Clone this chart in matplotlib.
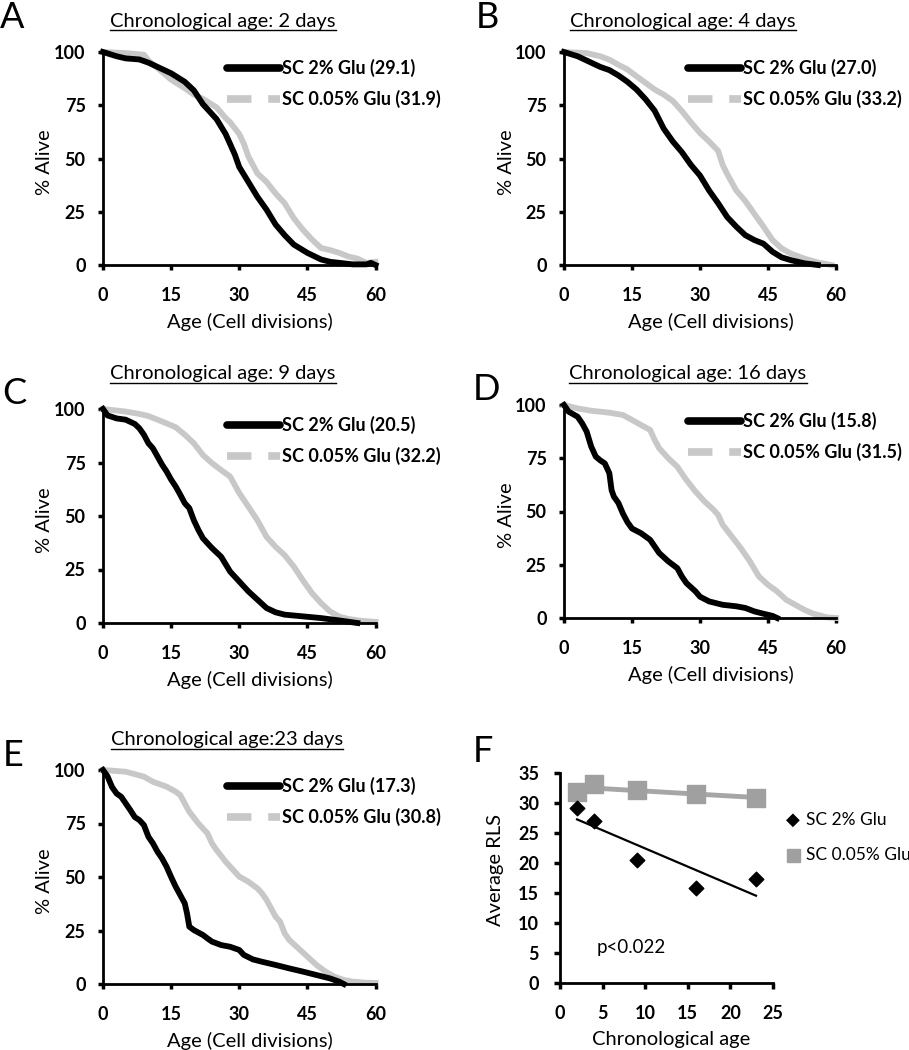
import numpy as np
import matplotlib
matplotlib.use('Agg')
import matplotlib.pyplot as plt
from matplotlib.lines import Line2D

plt.rcParams['font.family'] = ['Lato', 'DejaVu Sans']

W, H = 909, 1050

# survival curves: age (cell divisions) and % alive
a_x_2 = [0, 3, 5, 8, 10, 12, 15, 18, 20, 22, 25, 27, 29, 30, 32, 34, 36, 38, 40, 42, 45, 48, 50, 55, 58, 59, 60]
a_y_2 = [100, 98, 97, 96.5, 95, 93, 90, 86, 82, 75.5, 68.5, 61.5, 52, 46, 39, 32, 26, 19, 14, 9.6, 5.7, 2.6, 1.5, 0.3, 0.3, 1, 0]
a_x_005 = [0, 5, 9, 10, 12, 15, 18, 20, 22, 25, 27, 28, 30, 31, 32, 34, 36, 38, 40, 42, 44, 46, 48, 50, 52, 54, 56, 58, 60]
a_y_005 = [100, 99.5, 98.7, 96, 92.5, 87, 83, 80, 78, 74, 69, 67, 61.5, 57, 51, 43, 39, 33.6, 29, 22, 16.6, 12, 8, 7, 5.7, 4, 3, 1, 1.5]

b_x_2 = [0, 3, 5, 8, 10, 12, 14, 16, 18, 20, 22, 24, 26, 28, 30, 32, 34, 36, 38, 40, 42, 44, 46, 48, 50, 53, 56]
b_y_2 = [100, 98, 96, 93, 91.5, 89, 86, 82.4, 77.8, 72.4, 64, 58, 53, 47, 42, 35, 29, 22.5, 18, 14, 11.7, 10, 6.2, 3.6, 2.3, 0.8, 0]
b_x_005 = [0, 5, 8, 10, 12, 14, 16, 18, 20, 22, 24, 26, 28, 30, 32, 34, 35, 36, 38, 40, 42, 44, 46, 48, 50, 53, 56, 59]
b_y_005 = [100, 99.5, 98, 96.4, 94, 91.8, 88.6, 85.5, 82.4, 80, 77, 72.3, 67, 62, 58, 53.6, 47, 42.7, 35, 30, 24, 18, 11.7, 7.8, 5.4, 3, 1.2, 0]

c_x_2 = [0, 1, 3, 5, 7, 8, 9, 10, 11, 12, 13, 14, 15, 16, 17, 18, 19, 20, 21, 22, 24, 26, 28, 30, 32, 34, 36, 38, 40, 44, 48, 52, 55, 56]
c_y_2 = [100, 97, 95.6, 95, 93, 91, 88, 84, 81.6, 77.8, 74, 70.8, 67, 63.8, 60, 56, 53.7, 48, 43.5, 39.6, 35, 31, 24, 19.4, 14.8, 10.9, 7, 5, 3.9, 3.1, 2.3, 1.2, 0.3, 0]
c_x_005 = [0, 5, 8, 10, 12, 14, 16, 18, 20, 22, 24, 26, 28, 30, 32, 34, 36, 38, 40, 42, 44, 46, 48, 50, 52, 54, 57, 60]
c_y_005 = [100, 98.8, 97.7, 96.7, 95, 93.3, 91.5, 88, 84, 78.5, 74.7, 71.5, 68.4, 60.7, 54.4, 48, 40.3, 35.6, 31.7, 26.4, 20, 14, 9.3, 5.4, 3, 1.9, 1, 0.5]

d_x_2 = [0, 1, 3, 4, 5, 6, 7, 8, 9, 10, 10.5, 11, 12, 13, 14, 15, 17, 19, 20, 21, 23, 25, 26, 27, 29, 30, 32, 35, 38, 40, 42, 44, 46, 47]
d_y_2 = [100, 96.9, 94.5, 91.4, 87.5, 80.5, 75.8, 74, 72.6, 68, 60, 57, 54, 49, 45, 42, 39.8, 36.7, 33.6, 30.5, 26.6, 23.4, 19.5, 16.4, 12.5, 10, 7.8, 6.2, 5.5, 4.7, 3.1, 2, 1, 0]
d_x_005 = [0, 3, 6, 10, 13, 15, 17, 19, 20, 21, 23, 25, 27, 29, 31, 33, 34, 35, 37, 39, 41, 43, 45, 47, 49, 51, 53, 55, 58, 60]
d_y_005 = [100, 98.4, 97.3, 96.4, 95.3, 93, 90.6, 88.3, 83.6, 79.7, 75, 71, 64.8, 59.4, 54.7, 50.8, 48.4, 43.8, 38.3, 32.8, 26.6, 19.5, 15.6, 12.5, 8.6, 6.2, 3.9, 2, 0.3, 0]

e_x_2 = [0, 1, 2, 3, 4, 5, 6, 7, 8, 9, 10, 11, 12, 13, 14, 15, 16, 17, 18, 18.5, 19, 20, 22, 23, 24, 26, 28, 30, 31, 33, 35, 38, 41, 44, 47, 50, 52, 53]
e_y_2 = [100, 97, 92, 89, 87.5, 84.4, 81.3, 78, 76.6, 74.3, 68.8, 65.7, 61.8, 58.7, 54.8, 50, 45.5, 41.6, 37.7, 33, 26.8, 25.2, 22.9, 21.3, 19.8, 18.2, 17.4, 15.9, 13.6, 11.5, 10.4, 8.9, 7.3, 5.8, 4.2, 2.6, 1.1, 0]
e_x_005 = [0, 5, 9, 11, 14, 16, 17, 18, 19, 21, 23, 24, 25, 27, 29, 30, 32, 34, 35, 36, 37, 38, 39, 40, 41, 43, 45, 47, 49, 51, 53, 55, 58, 60]
e_y_005 = [100, 99.2, 96.9, 94.5, 92.2, 89.9, 88.3, 84.4, 80.5, 75, 70.4, 65.7, 62.6, 57.2, 52.5, 50.2, 47.8, 44.7, 42.4, 39.3, 35.4, 31.5, 29.1, 23.7, 20.6, 16.7, 12.8, 8.9, 5.8, 3.4, 1.9, 1.1, 0.6, 0.5]

# panel F: mean RLS versus chronological age
chrono_days = [2, 4, 9, 16, 23]
rls_2 = [29.1, 27.0, 20.5, 15.8, 17.3]
rls_005 = [31.9, 33.2, 32.2, 31.5, 30.8]

titles = ['Chronological age: 2 days', 'Chronological age: 4 days', 'Chronological age: 9 days',
          'Chronological age: 16 days', 'Chronological age:23 days']
letters = ['A', 'B', 'C', 'D', 'E', 'F']

GREY = '#c8c8c8'
fig = plt.figure(figsize=(W / 100, H / 100), dpi=100)


def px_axes(x0, x1, ytop, ybot):
    return fig.add_axes([x0 / W, 1 - ybot / H, (x1 - x0) / W, (ybot - ytop) / H])


def fy(y):
    return 1 - y / H


def style_axes(ax, xpad, ypad):
    for s in ['top', 'right']:
        ax.spines[s].set_visible(False)
    for s in ['left', 'bottom']:
        ax.spines[s].set_linewidth(2.0)
    ax.tick_params(direction='out', length=3.5, width=2.5, labelsize=13)
    ax.tick_params(axis='x', pad=xpad)
    ax.tick_params(axis='y', pad=ypad)
    for lab in ax.get_xticklabels() + ax.get_yticklabels():
        lab.set_fontweight('bold')


# layout of the five survival panels: (x0, x1, ytop, ybot), title pos, letter pos
panels = [
    ((103, 375.5, 52, 265), (223, 21), (12, 18)),
    ((564, 836, 52, 265), (683, 21), (487, 18)),
    ((103, 375.5, 409, 623), (223, 374), (14, 393)),
    ((564, 836, 405, 618), (688, 374), (487, 390)),
    ((103, 375.5, 770, 984), (227, 740), (13, 755)),
]
curves = [
    (a_x_2, a_y_2, a_x_005, a_y_005, '29.1', '31.9'),
    (b_x_2, b_y_2, b_x_005, b_y_005, '27.0', '33.2'),
    (c_x_2, c_y_2, c_x_005, c_y_005, '20.5', '32.2'),
    (d_x_2, d_y_2, d_x_005, d_y_005, '15.8', '31.5'),
    (e_x_2, e_y_2, e_x_005, e_y_005, '17.3', '30.8'),
]

title_texts = []
for i, (rect, tpos, lpos) in enumerate(panels):
    x2, y2, x005, y005, m2, m005 = curves[i]
    x0, x1, ytop, ybot = rect
    ax = px_axes(*rect)
    ax.plot(x005, y005, color=GREY, lw=4.2, clip_on=False)
    ax.plot(x2, y2, color='black', lw=4.2, clip_on=False)
    ax.set_xlim(0, 60)
    ax.set_ylim(0, 100)
    ax.set_xticks([0, 15, 30, 45, 60])
    ax.set_yticks([0, 25, 50, 75, 100])
    style_axes(ax, xpad=12, ypad=9)

    # y label as a plain rotated text
    fig.text((x0 - 58) / W, fy((ytop + ybot) / 2 + 4), '% Alive', fontsize=14.5, rotation=90,
             ha='center', va='center')

    # legend
    r1, r2 = ytop + 16, ytop + 47
    hx0, hx1 = (x0 + 124) / W, (x0 + 177) / W
    fig.add_artist(Line2D([hx0, hx1], [fy(r1), fy(r1)], color='black', lw=5.5, solid_capstyle='round'))
    fig.add_artist(Line2D([hx0, hx1], [fy(r2), fy(r2)], color=GREY, lw=5.5, dashes=(3.2, 2.2)))
    fig.text((x0 + 179) / W, fy(r1), f'SC 2% Glu ({m2})', fontsize=13, fontweight='bold', va='center')
    fig.text((x0 + 179) / W, fy(r2), f'SC 0.05% Glu ({m005})', fontsize=13, fontweight='bold', va='center')

    fig.text((x0 + 147) / W, fy(ybot + 57), 'Age (Cell divisions)', fontsize=14.5, ha='center', va='center')
    fig.text(lpos[0] / W, fy(lpos[1]), letters[i], fontsize=26, ha='center', va='center')
    title_texts.append(fig.text(tpos[0] / W, fy(tpos[1]), titles[i], fontsize=14.5,
                                ha='center', va='center'))

# panel F
axf = px_axes(560, 773, 773, 983)
cd = np.array(chrono_days)
fit2 = np.polyfit(cd, rls_2, 1)
fit005 = np.polyfit(cd, rls_005, 1)
xs = np.array([cd.min(), cd.max()])
axf.plot(xs, np.polyval(fit005, xs), color='#a6a6a6', lw=3.5)
axf.plot(xs, np.polyval(fit2, xs), color='black', lw=1.6)
axf.scatter(cd, rls_005, marker='s', s=160, color='#a0a0a0', zorder=3, clip_on=False)
axf.scatter(cd, rls_2, marker='D', s=55, color='black', zorder=4, clip_on=False)
axf.set_xlim(0, 25)
axf.set_ylim(0, 35)
axf.set_xticks([0, 5, 10, 15, 20, 25])
axf.set_yticks(range(0, 36, 5))
style_axes(axf, xpad=12, ypad=11)
axf.tick_params(length=4)
fig.text(495 / W, fy(870), 'Average RLS', fontsize=14.5, rotation=90, ha='center', va='center')
axf.text(4.3, 6, 'p<0.022', fontsize=13.5, ha='left', va='center')
fig.text(671 / W, fy(1040), 'Chronological age', fontsize=14.5, ha='center', va='center')
fig.text(483 / W, fy(752), 'F', fontsize=26, ha='center', va='center')

# legend for F
fig.text(793 / W, fy(820), '\u25c6', fontsize=13, ha='center', va='center', family='DejaVu Sans')
fig.text(806 / W, fy(820), 'SC 2% Glu', fontsize=12.5, ha='left', va='center')
fig.add_artist(plt.Rectangle((787 / W, fy(862)), 13 / W, 13 / H, color='#a0a0a0'))
fig.text(806 / W, fy(855), 'SC 0.05% Glu', fontsize=12.5, ha='left', va='center')

# underline the panel titles
fig.canvas.draw()
for t in title_texts:
    bb = t.get_window_extent()
    yl = (bb.y0 - 0.5) / H
    fig.add_artist(Line2D([bb.x0 / W, bb.x1 / W], [yl, yl], color='black', lw=1.0))

fig.savefig('out.png', dpi=100)
